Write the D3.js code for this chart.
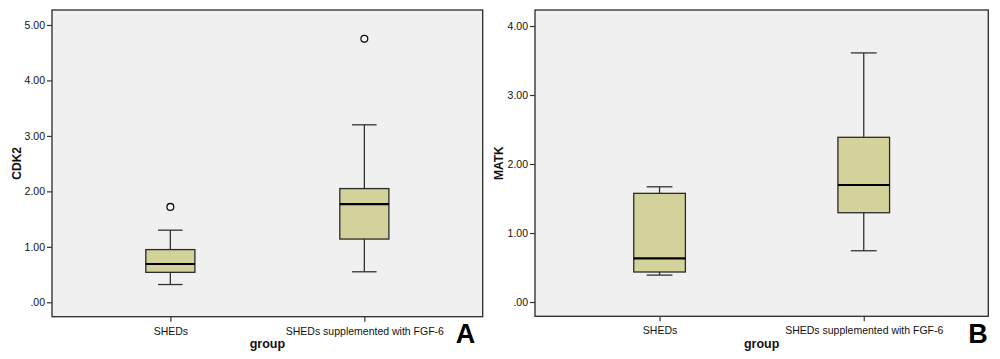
<!DOCTYPE html>
<html><head><meta charset="utf-8">
<script src="https://cdn.jsdelivr.net/npm/d3@7"></script>
<style>body{margin:0;background:#fff}svg{display:block}text{font-family:"Liberation Sans",Arial,sans-serif}</style>
</head><body>
<svg id="c" width="1000" height="359"></svg>
<script>
const categories = ["SHEDs", "SHEDs supplemented with FGF-6"];
// [lowerWhisker, q1, median, q3, upperWhisker]
const cdk2Stats = [[0.32, 0.54, 0.69, 0.95, 1.30], [0.55, 1.14, 1.77, 2.05, 3.20]];
const cdk2Outliers = [[1.72], [4.75]];
const matkStats = [[0.39, 0.435, 0.633, 1.575, 1.67], [0.743, 1.294, 1.696, 2.387, 3.61]];
const matkOutliers = [[], []];
const cdk2Ticks = [0, 1, 2, 3, 4, 5];
const matkTicks = [0, 1, 2, 3, 4];

const svg = d3.select("#c");
const fmt = v => v === 0 ? ".00" : d3.format(".2f")(v);

function panel(o) {
  const g = svg.append("g");
  const x = d3.scalePoint().domain(categories).range([o.x0, o.x1]).padding(0.61);
  const y = d3.scaleLinear().domain(o.ydom).range([o.y1, o.y0]);
  g.append("rect").attr("x", o.x0).attr("y", o.y0).attr("width", o.x1 - o.x0).attr("height", o.y1 - o.y0)
    .attr("fill", "#f0f0f0").attr("stroke", "#2a2a2a").attr("stroke-width", 1.3);
  const ya = g.append("g").attr("transform", `translate(${o.x0},0)`)
    .call(d3.axisLeft(y).tickValues(o.ticks).tickFormat(fmt).tickSize(5).tickSizeOuter(0));
  ya.select(".domain").remove();
  ya.selectAll("line").attr("stroke", "#333").attr("stroke-width", 1.2);
  ya.selectAll("text").attr("font-size", 10.5).attr("fill", "#111").attr("dx", 1);
  const xa = g.append("g").attr("transform", `translate(0,${o.y1})`)
    .call(d3.axisBottom(x).tickSize(5).tickSizeOuter(0));
  xa.select(".domain").remove();
  xa.selectAll("line").attr("stroke", "#333").attr("stroke-width", 1.2);
  xa.selectAll("text").attr("font-size", 10.5).attr("fill", "#111").attr("dy", "0.95em");
  const bw = x.step() * 0.253;
  categories.forEach((c, i) => {
    const s = o.stats[i], cx = x(c);
    g.append("line").attr("x1", cx).attr("x2", cx).attr("y1", y(s[4])).attr("y2", y(s[3])).attr("stroke", "#333").attr("stroke-width", 1.3);
    g.append("line").attr("x1", cx).attr("x2", cx).attr("y1", y(s[1])).attr("y2", y(s[0])).attr("stroke", "#333").attr("stroke-width", 1.3);
    [s[0], s[4]].forEach(v => g.append("line").attr("x1", cx - bw / 4).attr("x2", cx + bw / 4).attr("y1", y(v)).attr("y2", y(v)).attr("stroke", "#333").attr("stroke-width", 1.3));
    g.append("rect").attr("x", cx - bw / 2).attr("y", y(s[3])).attr("width", bw).attr("height", y(s[1]) - y(s[3]))
      .attr("fill", "#d3d29b").attr("stroke", "#2a2a2a").attr("stroke-width", 1.3);
    g.append("line").attr("x1", cx - bw / 2).attr("x2", cx + bw / 2).attr("y1", y(s[2])).attr("y2", y(s[2])).attr("stroke", "#000").attr("stroke-width", 2.2);
    o.outliers[i].forEach(v => g.append("circle").attr("cx", cx).attr("cy", y(v)).attr("r", 3.4).attr("fill", "#fff").attr("stroke", "#111").attr("stroke-width", 1.3));
  });
  g.append("text").attr("transform", `translate(${o.ylx},${(o.y0 + o.y1) / 2}) rotate(-90)`).attr("text-anchor", "middle")
    .attr("dy", "0.35em").attr("font-size", 12).attr("font-weight", "bold").attr("fill", "#111").text(o.ylabel);
  g.append("text").attr("x", (o.x0 + o.x1) / 2).attr("y", 348).attr("text-anchor", "middle")
    .attr("font-size", 12.5).attr("font-weight", "bold").attr("fill", "#111").text("group");
  g.append("text").attr("x", o.letterX).attr("y", 343).attr("text-anchor", "middle")
    .attr("font-size", 27).attr("font-weight", "bold").attr("fill", "#000").text(o.letter);
}

panel({x0: 52, x1: 482.7, y0: 10, y1: 316.7, ydom: [-0.26, 5.27], ticks: cdk2Ticks, stats: cdk2Stats, outliers: cdk2Outliers, ylabel: "CDK2", ylx: 17, letter: "A", letterX: 465.5});
panel({x0: 535, x1: 988.3, y0: 10, y1: 316.3, ydom: [-0.207, 4.232], ticks: matkTicks, stats: matkStats, outliers: matkOutliers, ylabel: "MATK", ylx: 499, letter: "B", letterX: 978});
</script>
</body></html>
